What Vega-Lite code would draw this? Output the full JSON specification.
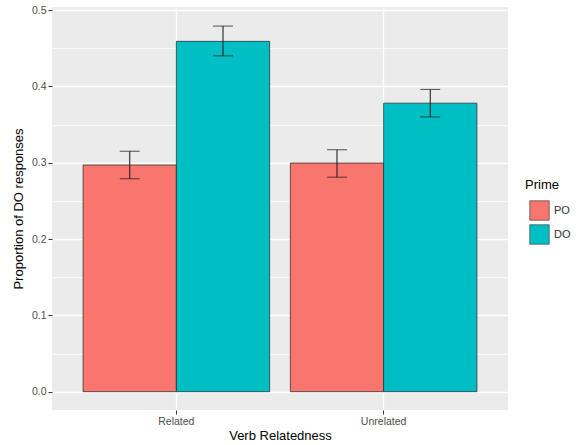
{
  "$schema": "https://vega.github.io/schema/vega-lite/v6.json",
  "width": 456,
  "height": 403,
  "autosize": {"type": "none"},
  "padding": {"left": 52, "top": 7, "right": 74, "bottom": 35},
  "background": "white",
  "config": {
    "view": {"fill": "#EBEBEB", "stroke": null},
    "font": "Liberation Sans",
    "axis": {"domain": false, "gridColor": "white", "tickColor": "#333333", "tickSize": 4, "labelColor": "#4d4d4d", "labelFontSize": 10.5, "titleFontSize": 13, "titleColor": "black", "titleFontWeight": "normal", "labelPadding": 2}
  },
  "data": {
    "values": [
      {"rel": "Related", "prime": "PO", "p": 0.297, "lo": 0.279, "hi": 0.315},
      {"rel": "Related", "prime": "DO", "p": 0.459, "lo": 0.440, "hi": 0.479},
      {"rel": "Unrelated", "prime": "PO", "p": 0.2995, "lo": 0.281, "hi": 0.317},
      {"rel": "Unrelated", "prime": "DO", "p": 0.378, "lo": 0.360, "hi": 0.396}
    ]
  },
  "encoding": {
    "x": {"field": "rel", "type": "nominal", "title": "Verb Relatedness",
      "scale": {"paddingInner": 0.1, "paddingOuter": 0.15},
      "axis": {"labelAngle": 0, "grid": true, "bandPosition": 0.5, "gridWidth": 1.3, "titlePadding": 3}},
    "xOffset": {"field": "prime", "type": "nominal", "scale": {"domain": ["PO", "DO"], "paddingInner": 0, "paddingOuter": 0}}
  },
  "layer": [
    {
      "mark": {"type": "bar", "stroke": "#222222", "strokeWidth": 0.7},
      "encoding": {
        "y": {"field": "p", "type": "quantitative", "title": "Proportion of DO responses",
          "scale": {"domain": [-0.024, 0.504], "nice": false, "zero": false},
          "axis": {
            "values": [0, 0.05, 0.1, 0.15, 0.2, 0.25, 0.3, 0.35, 0.4, 0.45, 0.5],
            "labelExpr": "round(datum.value*100) % 10 == 0 ? format(datum.value, '.1f') : ''",
            "gridWidth": {"condition": {"test": "round(datum.value*100) % 10 != 0", "value": 0.7}, "value": 1.3},
            "tickOpacity": {"condition": {"test": "round(datum.value*100) % 10 != 0", "value": 0}, "value": 1},
            "titlePadding": 6
          }},
        "fill": {"field": "prime", "type": "nominal", "title": "Prime",
          "scale": {"domain": ["PO", "DO"], "range": ["#F8766D", "#00BFC4"]},
          "legend": {"orient": "none", "legendX": 473, "legendY": 172, "symbolType": "square", "symbolSize": 380, "symbolStrokeColor": "#333333", "symbolStrokeWidth": 0.6, "titleFontSize": 13, "titleFontWeight": "normal", "titleColor": "black", "labelFontSize": 11, "labelColor": "#333333", "rowPadding": 1, "symbolOffset": 4, "titlePadding": 8}}
      }
    },
    {
      "mark": {"type": "rule", "color": "#222222", "strokeWidth": 1.1},
      "encoding": {
        "y": {"field": "lo", "type": "quantitative"},
        "y2": {"field": "hi"}
      }
    },
    {
      "mark": {"type": "tick", "color": "#222222", "thickness": 1.1, "size": 20, "orient": "horizontal"},
      "encoding": {"y": {"field": "lo", "type": "quantitative"}}
    },
    {
      "mark": {"type": "tick", "color": "#222222", "thickness": 1.1, "size": 20, "orient": "horizontal"},
      "encoding": {"y": {"field": "hi", "type": "quantitative"}}
    }
  ]
}
